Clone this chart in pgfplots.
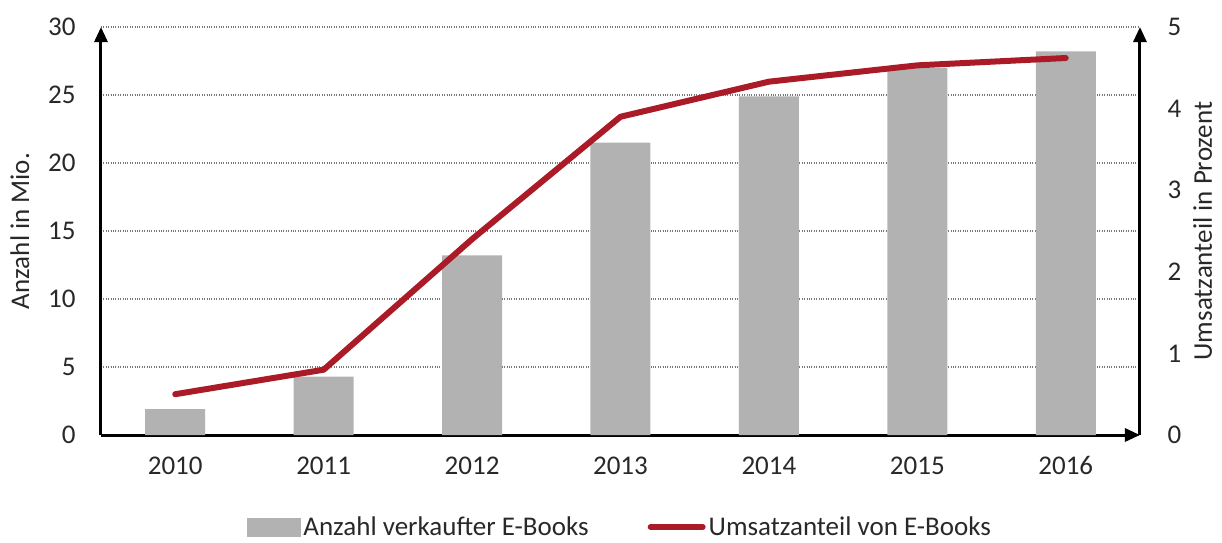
\documentclass[border=0pt]{standalone}
\usepackage{fontspec}
\setmainfont{Carlito}
\usepackage{pgfplots}
\pgfplotsset{compat=1.18}
\usetikzlibrary{arrows.meta}
\definecolor{barGray}{RGB}{178,178,178}
\definecolor{lineRed}{RGB}{170,27,39}
\definecolor{gridGray}{RGB}{120,120,120}
\definecolor{txt}{RGB}{40,40,40}

\begin{document}
\begin{tikzpicture}
\pgfplotsset{
  every axis/.append style={
    scale only axis, width=1039pt, height=408pt,
    xmin=-0.5, xmax=6.5,
    font=\fontsize{27}{32}\selectfont, text=txt,
    /pgf/number format/assume math mode=true,
    major tick length=0pt,
  }
}
% Balken: Anzahl verkaufter E-Books
\begin{axis}[
  ymin=0, ymax=30, ytick={0,5,...,30},
  axis x line=bottom, axis y line=left,
  x axis line style={line width=3pt, -{Triangle[length=15pt,width=13pt]}},
  y axis line style={line width=3pt, -{Triangle[length=15pt,width=13pt]}},
  ymajorgrids, grid style={gridGray, dotted, line width=1.2pt},
  xtick={0,...,6}, xticklabels={2010,2011,2012,2013,2014,2015,2016},
  xticklabel style={yshift=-18pt},
  yticklabel style={xshift=-22pt},
  ylabel={Anzahl in Mio.},
  ylabel style={yshift=12pt},
]
\addplot[ybar, bar width=60pt, fill=barGray, draw=none]
  coordinates {(0,1.9) (1,4.3) (2,13.2) (3,21.5) (4,24.9) (5,27.0) (6,28.2)};
\end{axis}
% Linie: Umsatzanteil
\begin{axis}[
  ymin=0, ymax=5, ytick={0,1,...,5},
  axis y line=right, axis x line=none,
  y axis line style={line width=3pt, -{Triangle[length=15pt,width=13pt]}},
  yticklabel style={xshift=24pt},
  ylabel={Umsatzanteil in Prozent},
  ylabel style={yshift=-5pt},
  legend style={at={(0.5,-0.2255)}, anchor=center, draw=none, fill=none,
    legend columns=2, font=\fontsize{27}{32}\selectfont,
    /tikz/every even column/.append style={column sep=56pt},
    nodes={inner sep=3pt}},
]
\addlegendimage{legend image code/.code={\fill[barGray] (0pt,-9pt) rectangle (53pt,9pt);}}
\addlegendentry{Anzahl verkaufter E-Books}
\addplot[lineRed, line width=6pt, line cap=round, line join=round,
  legend image code/.code={\draw[lineRed, line width=6pt, line cap=round] (1pt,0pt) -- (53pt,0pt);}]
  coordinates {(0,0.5) (1,0.8) (2,2.4) (3,3.9) (4,4.33) (5,4.53) (6,4.62)};
\addlegendentry{Umsatzanteil von E-Books}
\end{axis}
\pgfresetboundingbox
\path (-101pt,-107pt) rectangle (1121pt,435pt);
\end{tikzpicture}
\end{document}
